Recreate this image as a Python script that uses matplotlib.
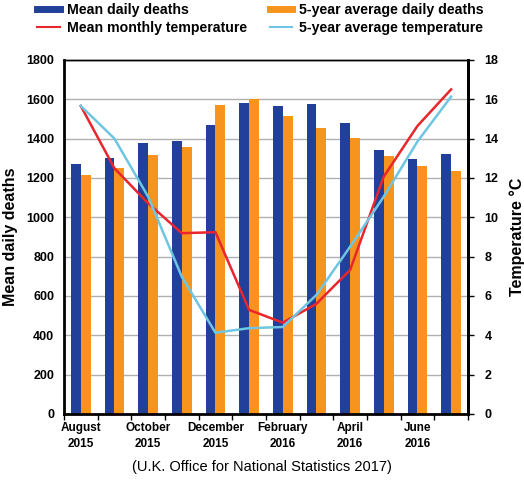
import numpy as np
import matplotlib
matplotlib.use('Agg')
import matplotlib.pyplot as plt
from matplotlib.lines import Line2D

plt.rcParams['font.family'] = ['Liberation Sans', 'DejaVu Sans']

months = ['August\n2015', '', 'October\n2015', '', 'December\n2015', '',
          'February\n2016', '', 'April\n2016', '', 'June\n2016', '']
mean_deaths = [1271, 1303, 1376, 1390, 1471, 1580, 1568, 1575, 1480, 1344, 1297, 1323]
avg_deaths = [1213, 1249, 1315, 1358, 1573, 1603, 1517, 1456, 1402, 1312, 1261, 1234]
mean_temp = [15.66, 12.49, 10.71, 9.19, 9.24, 5.29, 4.64, 5.6, 7.32, 12.07, 14.64, 16.5]
avg_temp = [15.66, 14.0, 11.05, 6.98, 4.13, 4.36, 4.42, 6.05, 8.5, 11.05, 13.85, 16.13]

BLUE = '#21409a'
ORANGE = '#f7941d'
RED = '#e8262b'
CYAN = '#6ec6e2'

fig = plt.figure(figsize=(5.24, 4.83), dpi=100)
ax = fig.add_axes([0.122, 0.143, 0.771, 0.733])
x = np.arange(len(months))
w = 0.29
ax.bar(x - w / 2, mean_deaths, width=w, color=BLUE, zorder=2)
ax.bar(x + w / 2, avg_deaths, width=w, color=ORANGE, zorder=2)
ax.set_xlim(-0.5, len(months) - 0.5)
ax.set_ylim(0, 1800)
ax.set_yticks(range(0, 1801, 200))
ax.yaxis.grid(True, color='#b0b0b0', linewidth=1, zorder=0)
ax.set_xticks(x)
ax.set_xticklabels(months, fontsize=8.5, fontweight='bold', linespacing=1.45)
ax.set_xticks(np.arange(-0.5, len(months)), minor=True)
ax.tick_params(axis='x', which='major', length=0, pad=6)
ax.tick_params(axis='x', which='minor', length=4, width=1, direction='out')
ax.tick_params(axis='y', length=0, labelsize=9, pad=7)
for lab in ax.get_yticklabels():
    lab.set_fontweight('bold')
ax.set_ylabel('Mean daily deaths', fontsize=11.5, fontweight='bold', labelpad=6)
for s in ['left', 'bottom']:
    ax.spines[s].set_linewidth(2)
ax.spines['top'].set_linewidth(1)
ax.spines['right'].set_linewidth(2)

ax2 = ax.twinx()
ax2.plot(x, mean_temp, color=RED, linewidth=1.8, zorder=3)
ax2.plot(x, avg_temp, color=CYAN, linewidth=1.8, zorder=3)
ax2.set_ylim(0, 18)
ax2.set_yticks(range(0, 19, 2))
ax2.tick_params(axis='y', length=4, width=1, labelsize=9, pad=8)
for lab in ax2.get_yticklabels():
    lab.set_fontweight('bold')
ax2.set_ylabel('Temperature °C', fontsize=11.5, fontweight='bold', labelpad=8)
ax2.spines['right'].set_linewidth(2)
ax2.spines['left'].set_visible(False)
ax2.spines['bottom'].set_visible(False)
ax2.spines['top'].set_linewidth(1)

handles = [Line2D([0], [0], color=BLUE, lw=5),
           Line2D([0], [0], color=ORANGE, lw=5),
           Line2D([0], [0], color=RED, lw=1.5),
           Line2D([0], [0], color=CYAN, lw=1.5)]
labels = ['Mean daily deaths', '5-year average daily deaths',
          'Mean monthly temperature', '5-year average temperature']
order = [0, 2, 1, 3]
fig.legend([handles[i] for i in order], [labels[i] for i in order],
           ncol=2, loc='upper center', bbox_to_anchor=(0.497, 1.02),
           frameon=False, prop={'weight': 'bold', 'size': 10.2},
           handlelength=1.6, handletextpad=0.5, columnspacing=1.6,
           labelspacing=0.25)

fig.text(0.5, 0.033, '(U.K. Office for National Statistics 2017)',
         ha='center', va='center', fontsize=10.5)

fig.savefig('out.png', dpi=100)
